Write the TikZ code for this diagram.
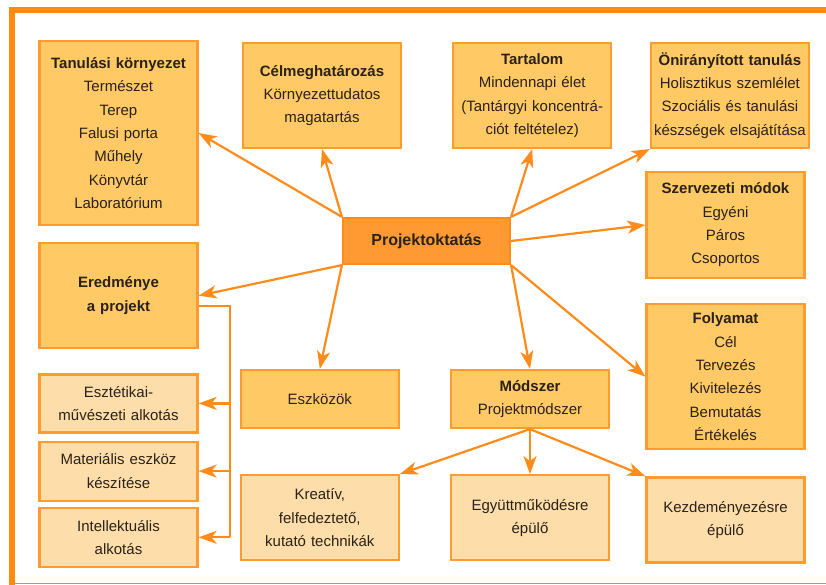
\documentclass[tikz,border=0pt]{standalone}
\usepackage{fontspec}
\setmainfont{Liberation Sans}
\usepackage{xcolor}
\usepackage{tikz}
\usetikzlibrary{positioning,arrows.meta,calc}
\definecolor{frameorange}{HTML}{FF8A0D}
\definecolor{boxfill}{HTML}{FFC966}
\definecolor{boxborder}{HTML}{FF9B2F}
\definecolor{lightfill}{HTML}{FDDEAA}
\definecolor{hubfill}{HTML}{FF9A33}
\definecolor{hubborder}{HTML}{FF8C1A}
\definecolor{linkorange}{HTML}{FF8C1A}
\definecolor{inktext}{HTML}{2A2118}
\tikzset{
    topicbox/.style={
        draw=boxborder, fill=boxfill, line width=2.2pt,
        minimum width=158pt, minimum height=105pt,
        text width=154pt, inner sep=2pt,
        font=\fontsize{15}{23.3}\selectfont, align=center, text=inktext
    },
    resultbox/.style={
        draw=boxborder, fill=lightfill, line width=2.2pt,
        minimum width=158pt, minimum height=58pt,
        text width=154pt, inner sep=2pt,
        font=\fontsize{15}{23.3}\selectfont, align=center, text=inktext
    },
    hubbox/.style={
        draw=hubborder, fill=hubfill, line width=2.2pt,
        minimum width=167pt, minimum height=46pt,
        font=\fontsize{16}{20}\selectfont\bfseries, align=center, text=inktext
    },
    frameline/.style={draw=frameorange, line width=6pt},
    arrow/.style={-{Stealth[length=18pt,width=13pt,inset=5pt]}, line width=2.2pt, color=linkorange},
    link/.style={line width=2.2pt, color=linkorange},
}

\begin{document}
\begin{tikzpicture}[
        x=1pt, y=-1pt,
        node distance=24pt and 46pt,
    ]
        \useasboundingbox (0,0) rectangle (826,585);
        \draw[frameline] (826,10.5) -| (11.5,585);
        \draw[draw=frameorange, line width=1.5pt] (11.5,583.5) -- (826,583.5);

        \node[hubbox] (proj) at (426.5,241) {Projektoktatás};

        \node[topicbox, minimum height=184pt] (tanul) at (118.5,133)
            {\textbf{Tanulási környezet}\\Természet\\Terep\\Falusi porta\\Műhely\\Könyvtár\\Laboratórium};
        \node[topicbox, below=16pt of tanul] (ered) {\textbf{Eredménye}\\\textbf{a projekt}};
        \node[resultbox, below=24pt of ered] (eszt) {Esztétikai-\\művészeti alkotás};
        \node[resultbox, minimum height=59pt, below=7pt of eszt] (mat) {Materiális eszköz\\készítése};
        \node[resultbox, minimum height=59pt, below=5pt of mat] (intel) {Intellektuális\\alkotás};

        \node[topicbox] (cel) at (322,95.5) {\textbf{Célmeghatározás}\\Környezettudatos\\magatartás};
        \node[topicbox, right=50pt of cel] (tart) {\textbf{Tartalom}\\Mindennapi élet\\(Tantárgyi koncentrá-\\ciót feltételez)};
        \node[topicbox, right=37.5pt of tart] (onir) {\textbf{Önirányított tanulás}\\Holisztikus szemlélet\\Szociális és tanulási\\készségek elsajátítása};

        \node[topicbox, minimum height=106pt] (szerv) at (725.5,225) {\textbf{Szervezeti módok}\\Egyéni\\Páros\\Csoportos};
        \node[topicbox, minimum height=145pt, below=24pt of szerv] (foly)
            {\textbf{Folyamat}\\Cél\\Tervezés\\Kivitelezés\\Bemutatás\\Értékelés};
        \node[resultbox, minimum height=85pt, below=26pt of foly] (kezd) {Kezdeményezésre\\épülő};

        \node[topicbox, minimum height=58pt] (mod) at (530,399) {\textbf{Módszer}\\Projektmódszer};
        \node[resultbox, minimum height=85pt, below=45pt of mod] (egy) {Együttműködésre\\épülő};
        \node[topicbox, minimum height=58pt, left=50pt of mod] (eszk) {Eszközök};
        \node[resultbox, minimum height=85pt, below=45pt of eszk] (krea) {Kreatív,\\felfedeztető,\\kutató technikák};

        \draw[arrow] (proj.north west) -- (tanul.east);
        \draw[arrow] (proj.north west) -- (cel.south);
        \draw[arrow] (proj.north east) -- (tart.south);
        \draw[arrow] (proj.north east) -- (onir.south west);
        \draw[arrow] (proj.east) -- (szerv.west);
        \draw[arrow] (proj.south west) -- (ered.east);
        \draw[arrow] (proj.south west) -- (eszk.north);
        \draw[arrow] (proj.south east) -- (mod.north);
        \draw[arrow] (proj.south east) -- (foly.west);
        \draw[arrow] (mod.south) -- (krea.north east);
        \draw[arrow] (mod.south) -- (egy.north);
        \draw[arrow] (mod.south) -- (kezd.north west);

        \coordinate (brbot) at ($(intel.east)+(31,0)$);
        \draw[link] ([yshift=-10pt]ered.east) -| (brbot);
        \draw[arrow] (eszt.east -| brbot) -- (eszt.east);
        \draw[arrow] (mat.east -| brbot) -- (mat.east);
        \draw[arrow] (brbot) -- (intel.east);
    \end{tikzpicture}
\end{document}
